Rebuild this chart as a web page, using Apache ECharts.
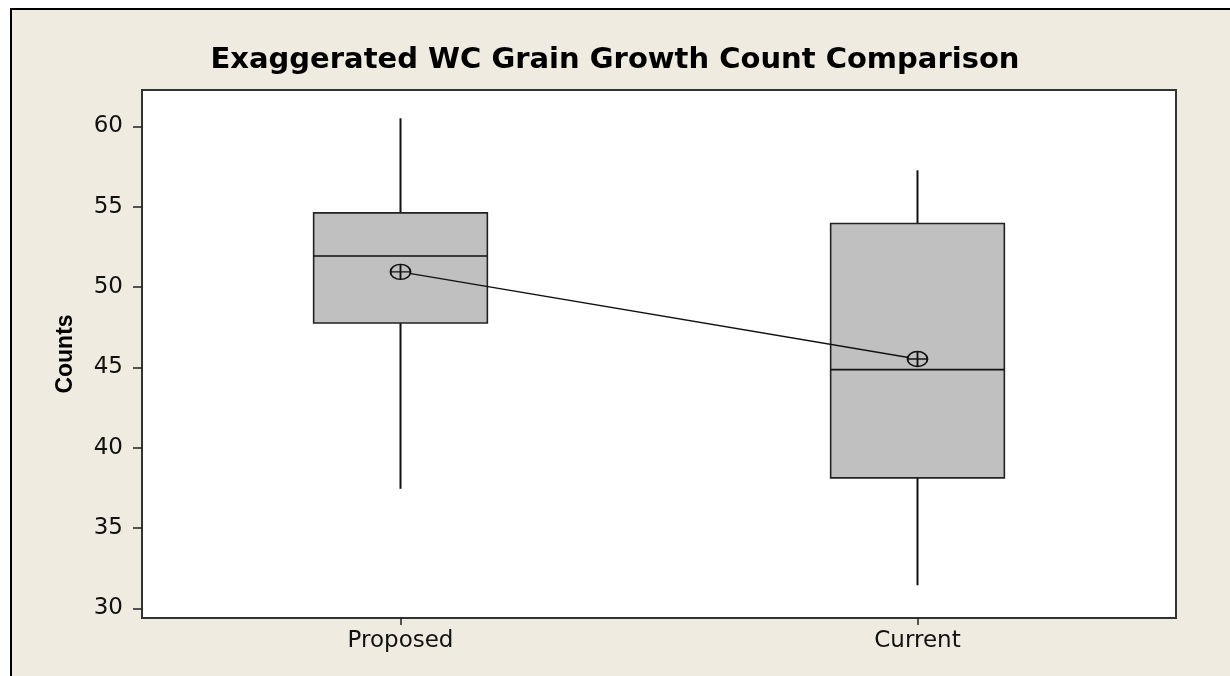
<!DOCTYPE html>
<html>
<head>
<meta charset="utf-8">
<title>Exaggerated WC Grain Growth Count Comparison</title>
<script src="https://cdn.jsdelivr.net/npm/echarts@6/dist/echarts.min.js"></script>
<style>
  html, body { margin: 0; padding: 0; background: #ffffff; }
  #chart { width: 1230px; height: 676px; }
</style>
</head>
<body>
<div id="chart"></div>
<script>
// Grain growth counts per process: box statistics and means
const categories = ['Proposed', 'Current'];
const lowWhisker = [37.45, 31.45];
const q1 = [47.77, 38.13];
const median = [51.94, 44.87];
const q3 = [54.62, 53.96];
const highWhisker = [60.51, 57.27];
const means = [50.95, 45.53];
const yTicks = [30, 35, 40, 45, 50, 55, 60];

const boxRows = categories.map((c, i) => [i, lowWhisker[i], q1[i], median[i], q3[i], highWhisker[i]]);

const BOX_FILL = '#C0C0C0';
const INK = '#111111';

function renderBox(params, api) {
  const idx = api.value(0);
  const band = api.size([1, 0])[0];
  const half = band * 0.168;
  const pLow = api.coord([idx, api.value(1)]);
  const pQ1 = api.coord([idx, api.value(2)]);
  const pMed = api.coord([idx, api.value(3)]);
  const pQ3 = api.coord([idx, api.value(4)]);
  const pHigh = api.coord([idx, api.value(5)]);
  const cx = pMed[0];
  const lineStyle = { stroke: INK, lineWidth: 2 };
  return {
    type: 'group',
    children: [
      { type: 'line', shape: { x1: cx, y1: pHigh[1], x2: cx, y2: pQ3[1] }, style: lineStyle },
      { type: 'line', shape: { x1: cx, y1: pQ1[1], x2: cx, y2: pLow[1] }, style: lineStyle },
      {
        type: 'rect',
        shape: { x: cx - half, y: pQ3[1], width: half * 2, height: pQ1[1] - pQ3[1] },
        style: { fill: BOX_FILL, stroke: '#222222', lineWidth: 1.6 }
      },
      { type: 'line', shape: { x1: cx - half, y1: pMed[1], x2: cx + half, y2: pMed[1] }, style: { stroke: INK, lineWidth: 1.6 } }
    ]
  };
}

const chart = echarts.init(document.getElementById('chart'), null, { renderer: 'canvas' });

chart.setOption({
  backgroundColor: '#EFEBE0',
  animation: false,
  graphic: [
    { type: 'rect', shape: { x: 0, y: 0, width: 1230, height: 8 }, style: { fill: '#ffffff' }, silent: true },
    { type: 'rect', shape: { x: 0, y: 0, width: 10, height: 676 }, style: { fill: '#ffffff' }, silent: true },
    { type: 'rect', shape: { x: 10, y: 8, width: 1220, height: 2 }, style: { fill: '#000000' }, silent: true },
    { type: 'rect', shape: { x: 10, y: 8, width: 2, height: 668 }, style: { fill: '#000000' }, silent: true }
  ],
  title: {
    text: 'Exaggerated WC Grain Growth Count Comparison',
    left: 'center',
    top: 46,
    padding: 0,
    textStyle: {
      fontFamily: 'DejaVu Sans',
      fontWeight: 'bold',
      fontSize: 29,
      color: '#000000'
    }
  },
  grid: {
    left: 142,
    top: 90,
    right: 54,
    bottom: 58,
    show: true,
    backgroundColor: '#ffffff',
    borderColor: '#333333',
    borderWidth: 2
  },
  xAxis: {
    type: 'category',
    data: categories,
    boundaryGap: true,
    axisLine: { show: true, lineStyle: { color: '#333333', width: 2 } },
    axisTick: { show: true, alignWithLabel: true, length: 7, lineStyle: { color: '#222222', width: 1.5 } },
    axisLabel: {
      margin: 12,
      fontFamily: 'DejaVu Sans',
      fontSize: 23,
      color: '#111111'
    },
    splitLine: { show: false }
  },
  yAxis: {
    type: 'value',
    min: 29.41,
    max: 62.27,
    name: 'Counts',
    nameLocation: 'middle',
    nameGap: 65,
    nameTextStyle: {
      fontFamily: 'Liberation Sans',
      fontWeight: 'bold',
      fontSize: 23,
      color: '#000000'
    },
    axisLine: { show: true, lineStyle: { color: '#333333', width: 2 } },
    axisTick: { show: true, length: 9, customValues: yTicks, lineStyle: { color: '#222222', width: 1.5 } },
    axisLabel: {
      customValues: yTicks,
      margin: 19,
      fontFamily: 'DejaVu Sans',
      fontSize: 23,
      color: '#111111'
    },
    splitLine: { show: false }
  },
  series: [
    {
      type: 'custom',
      name: 'Counts',
      renderItem: renderBox,
      encode: { x: 0, y: [1, 2, 3, 4, 5] },
      data: boxRows,
      z: 2
    },
    {
      type: 'line',
      name: 'Mean',
      data: means,
      z: 3,
      symbol: 'path://M0,10A10,10,0,1,1,20,10A10,10,0,1,1,0,10ZM10,0L10,20M0,10L20,10',
      symbolSize: [20, 15],
      itemStyle: { color: BOX_FILL, borderColor: INK, borderWidth: 1.6 },
      lineStyle: { color: INK, width: 1.4 }
    }
  ]
});
</script>
</body>
</html>
